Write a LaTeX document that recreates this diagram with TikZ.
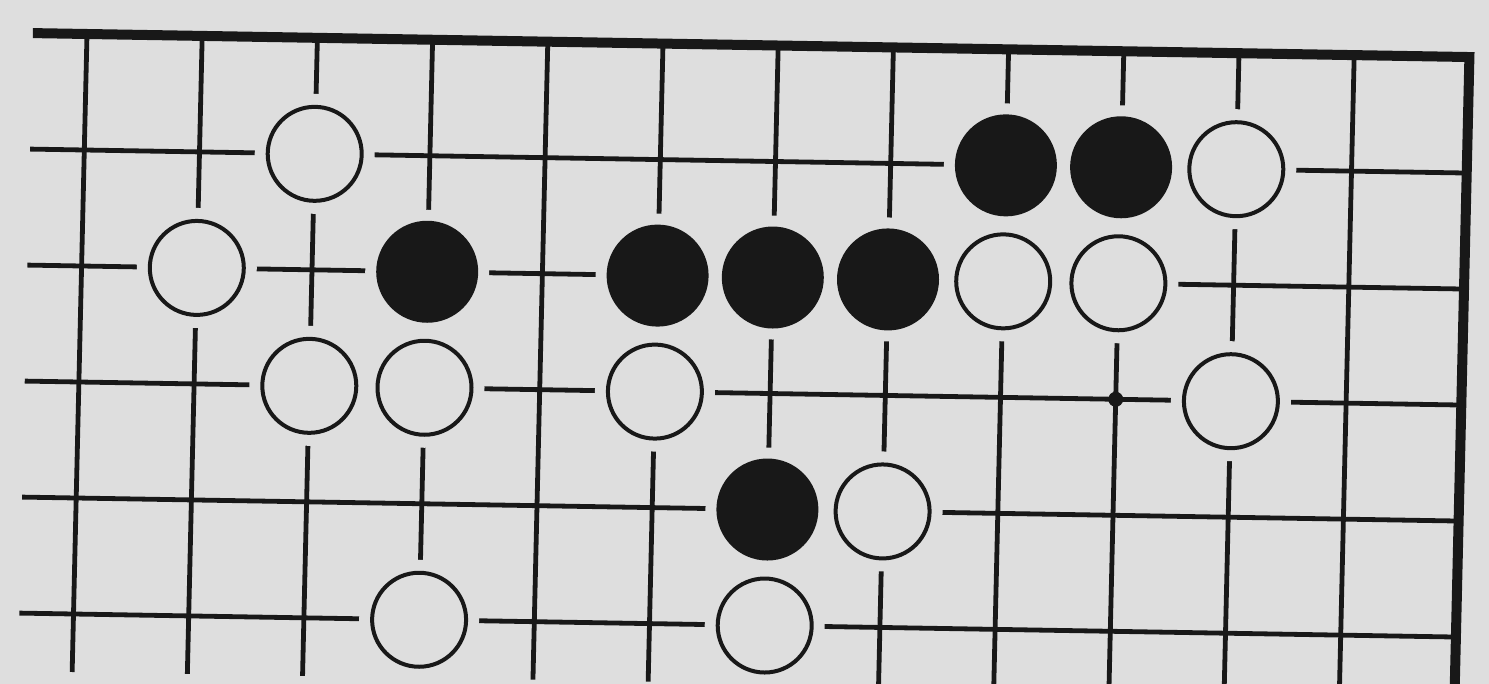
\documentclass[tikz,border=0pt]{standalone}
\definecolor{bg}{RGB}{222,222,222}
\definecolor{ink}{RGB}{24,24,24}
\tikzset{
  gridline/.style={draw=ink, line width=4.8pt},
  boardedge/.style={draw=ink, line width=10pt, line join=miter},
  stonebase/.style={circle, inner sep=0pt, line width=4pt, minimum size=94pt,
    preaction={draw=bg, line width=26pt}},
  wstone/.style={stonebase, draw=ink, fill=bg},
  bstone/.style={stonebase, draw=ink, fill=ink, minimum size=98pt},
  dotmark/.style={circle, inner sep=0pt, fill=ink, minimum size=15pt}
}
\begin{document}
\begin{tikzpicture}
\fill[bg] (0,0) rectangle (1489pt,-684pt);
\clip (0,0) rectangle (1489pt,-684pt);
\begin{scope}[shift={(87pt,-34pt)}, x={(115.2pt,-1.92pt)}, y={(-2.7pt,-116pt)}]
  % grid
  \foreach \j in {1,...,5} \draw[gridline] (-0.47,\j) -- (12,\j);
  \foreach \i in {0,...,11} \draw[gridline] (\i,0) -- (\i,5.5);
  \draw[boardedge] (-0.47,0) -- (12,0) -- (12,5.9);
  % white stones
  \foreach \i/\j in {2/1,10/1,1/2,8/2,9/2,2/3,3/3,5/3,10/3,7/4,3/5,6/5}
    \node[wstone] (w\i\j) at (\i,\j) {};
  % black stones
  \foreach \i/\j in {8/1,9/1,3/2,5/2,6/2,7/2,6/4}
    \node[bstone] (b\i\j) at (\i,\j) {};
  % marker
  \node[dotmark] (d93) at (9,3) {};
\end{scope}
\end{tikzpicture}
\end{document}
